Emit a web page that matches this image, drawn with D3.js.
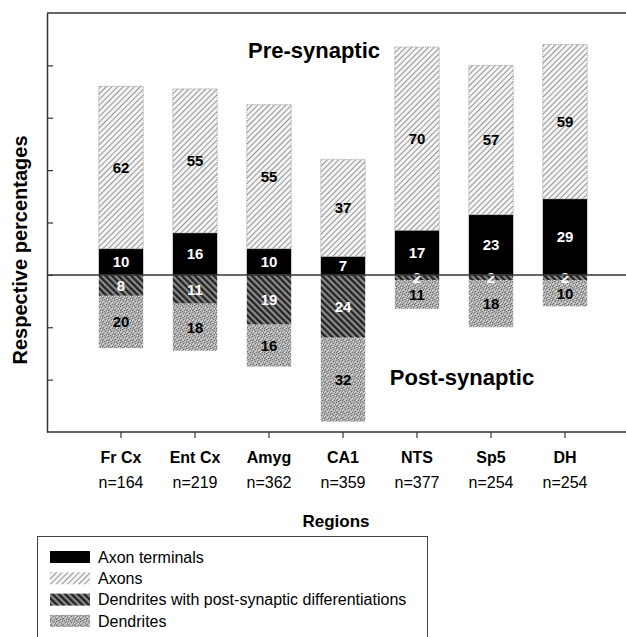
<!DOCTYPE html>
<html>
<head>
<meta charset="utf-8">
<script src="https://cdn.jsdelivr.net/npm/d3@7"></script>
<style>
  body { margin: 0; background: #fff; }
  svg { font-family: "Liberation Sans", Arial, sans-serif; }
</style>
</head>
<body>
<div id="chart"></div>
<script>
// Chart data
const regions = ["Fr Cx", "Ent Cx", "Amyg", "CA1", "NTS", "Sp5", "DH"];
const sampleSizes = [164, 219, 362, 359, 377, 254, 254];
// pre-synaptic (stacked upward)
const axonTerminals = [10, 16, 10, 7, 17, 23, 29];
const axons = [62, 55, 55, 37, 70, 57, 59];
// post-synaptic (stacked downward)
const dendritesPSD = [8, 11, 19, 24, 2, 2, 2];
const dendrites = [20, 18, 16, 32, 11, 18, 10];
const yTicks = [-40, -20, 0, 20, 40, 60, 80];
const legendLabels = ["Axon terminals", "Axons", "Dendrites with post-synaptic differentiations", "Dendrites"];

const width = 626, height = 637;
const left = 47, right = 626;

let svg = d3.select("#chart")
    .append("svg")
    .attr("width", width)
    .attr("height", height);

// Fill patterns
let defs = svg.append("defs");

let pAxon = defs.append("pattern")
    .attr("id", "axons")
    .attr("patternUnits", "userSpaceOnUse")
    .attr("width", 4).attr("height", 4)
    .attr("patternTransform", "rotate(45)");
pAxon.append("rect").attr("width", 4).attr("height", 4).attr("fill", "#f4f4f4");
pAxon.append("line").attr("x1", 0.5).attr("y1", 0).attr("x2", 0.5).attr("y2", 4)
    .attr("stroke", "#8a8a8a").attr("stroke-width", 0.9);

let pPsd = defs.append("pattern")
    .attr("id", "psd")
    .attr("patternUnits", "userSpaceOnUse")
    .attr("width", 4.5).attr("height", 4.5)
    .attr("patternTransform", "rotate(-45)");
pPsd.append("rect").attr("width", 4.5).attr("height", 4.5).attr("fill", "#8c8c8c");
pPsd.append("line").attr("x1", 1.2).attr("y1", 0).attr("x2", 1.2).attr("y2", 4.5)
    .attr("stroke", "#1e1e1e").attr("stroke-width", 2.2);

let pDend = defs.append("pattern")
    .attr("id", "dend")
    .attr("patternUnits", "userSpaceOnUse")
    .attr("width", 6).attr("height", 6);
pDend.append("rect").attr("width", 6).attr("height", 6).attr("fill", "#acacac");
const darkDots = [[0, 0], [3, 1], [1, 3], [4, 4], [5, 2], [2, 5], [0, 4]];
const lightDots = [[1, 1], [4, 2], [2, 4], [5, 5], [3, 3], [0, 2]];
darkDots.forEach(function (d) {
    pDend.append("rect").attr("x", d[0]).attr("y", d[1]).attr("width", 1).attr("height", 1).attr("fill", "#727272");
});
lightDots.forEach(function (d) {
    pDend.append("rect").attr("x", d[0]).attr("y", d[1]).attr("width", 1).attr("height", 1).attr("fill", "#dedede");
});

const fills = ["#000", "url(#axons)", "url(#psd)", "url(#dend)"];
const labelColors = ["#fff", "#000", "#fff", "#000"];

// Scales
let x = d3.scaleBand()
    .domain(regions)
    .range([84, 602])
    .paddingInner(0.4)
    .paddingOuter(0.2);

let y = d3.scaleLinear()
    .domain([-60, 100])
    .range([432, 13]);

// Build stacked segments
let segments = [];
regions.forEach(function (r, i) {
    let t = axonTerminals[i], a = axons[i], p = dendritesPSD[i], d = dendrites[i];
    segments.push({region: r, k: 0, v: t, y0: 0, y1: t});
    segments.push({region: r, k: 1, v: a, y0: t, y1: t + a});
    segments.push({region: r, k: 2, v: p, y0: -p, y1: 0});
    segments.push({region: r, k: 3, v: d, y0: -p - d, y1: -p});
});

// Bars
svg.selectAll("rect.seg")
    .data(segments)
    .enter()
    .append("rect")
    .attr("class", "seg")
    .attr("x", d => x(d.region))
    .attr("width", x.bandwidth())
    .attr("y", d => y(d.y1))
    .attr("height", d => y(d.y0) - y(d.y1))
    .attr("fill", d => fills[d.k])
    .attr("stroke", d => d.k === 1 ? "#9a9a9a" : "none")
    .attr("stroke-width", 0.8)
    .attr("stroke-dasharray", "1.5,1");

// Value labels
svg.selectAll("text.val")
    .data(segments)
    .enter()
    .append("text")
    .attr("class", "val")
    .attr("x", d => x(d.region) + x.bandwidth() / 2)
    .attr("y", d => (y(d.y0) + y(d.y1)) / 2)
    .attr("dy", "0.36em")
    .attr("text-anchor", "middle")
    .style("font-size", "15px")
    .style("font-weight", "bold")
    .attr("fill", d => labelColors[d.k])
    .text(d => d.v);

// Axes
let yAxis = d3.axisLeft(y)
    .tickValues(yTicks)
    .tickSize(-6)
    .tickSizeOuter(0)
    .tickFormat("");
let gy = svg.append("g")
    .attr("transform", `translate(${left},0)`)
    .call(yAxis);
gy.selectAll("line").attr("stroke", "#333").attr("stroke-width", 1.2);
gy.select(".domain").attr("stroke", "#333").attr("stroke-width", 1.5);

let xAxis = d3.axisBottom(x).tickSize(6).tickSizeOuter(0).tickFormat("");
let gx = svg.append("g")
    .attr("transform", `translate(0,${y(-60)})`)
    .call(xAxis);
gx.select(".domain").remove();
gx.selectAll("line").attr("stroke", "#333").attr("stroke-width", 1.2);

// frame lines: top, zero, bottom
[100, 0, -60].forEach(function (v) {
    svg.append("line")
        .attr("x1", left).attr("x2", right)
        .attr("y1", y(v)).attr("y2", y(v))
        .attr("stroke", "#333")
        .attr("stroke-width", 1.5);
});

// Category labels
svg.selectAll("text.reg")
    .data(regions)
    .enter()
    .append("text")
    .attr("x", d => x(d) + x.bandwidth() / 2)
    .attr("y", 463)
    .attr("text-anchor", "middle")
    .style("font-size", "16px")
    .style("font-weight", "bold")
    .text(d => d);

svg.selectAll("text.n")
    .data(regions)
    .enter()
    .append("text")
    .attr("x", d => x(d) + x.bandwidth() / 2)
    .attr("y", 488)
    .attr("text-anchor", "middle")
    .style("font-size", "16px")
    .text((d, i) => `n=${sampleSizes[i]}`);

svg.append("text")
    .attr("x", 336).attr("y", 527)
    .attr("text-anchor", "middle")
    .style("font-size", "17px")
    .style("font-weight", "bold")
    .text("Regions");

svg.append("text")
    .attr("transform", "translate(27,250) rotate(-90)")
    .attr("text-anchor", "middle")
    .style("font-size", "20px")
    .style("font-weight", "bold")
    .text("Respective percentages");

svg.append("text")
    .attr("x", 314).attr("y", 58)
    .attr("text-anchor", "middle")
    .style("font-size", "22px")
    .style("font-weight", "bold")
    .text("Pre-synaptic");

svg.append("text")
    .attr("x", 462).attr("y", 385)
    .attr("text-anchor", "middle")
    .style("font-size", "22px")
    .style("font-weight", "bold")
    .text("Post-synaptic");

// Legend
let legend = svg.append("g");
legend.append("rect")
    .attr("x", 37.5).attr("y", 536.5)
    .attr("width", 390).attr("height", 110)
    .attr("fill", "#fff")
    .attr("stroke", "#444")
    .attr("stroke-width", 1);

let items = legend.selectAll("g.item")
    .data(legendLabels)
    .enter()
    .append("g")
    .attr("transform", (d, i) => `translate(50,${557 + i * 21.3})`);
items.append("rect")
    .attr("x", 0).attr("y", -6)
    .attr("width", 40).attr("height", 12)
    .attr("fill", (d, i) => fills[i]);
items.append("text")
    .attr("x", 48)
    .attr("dy", "0.36em")
    .style("font-size", "16px")
    .text(d => d);
</script>
</body>
</html>
